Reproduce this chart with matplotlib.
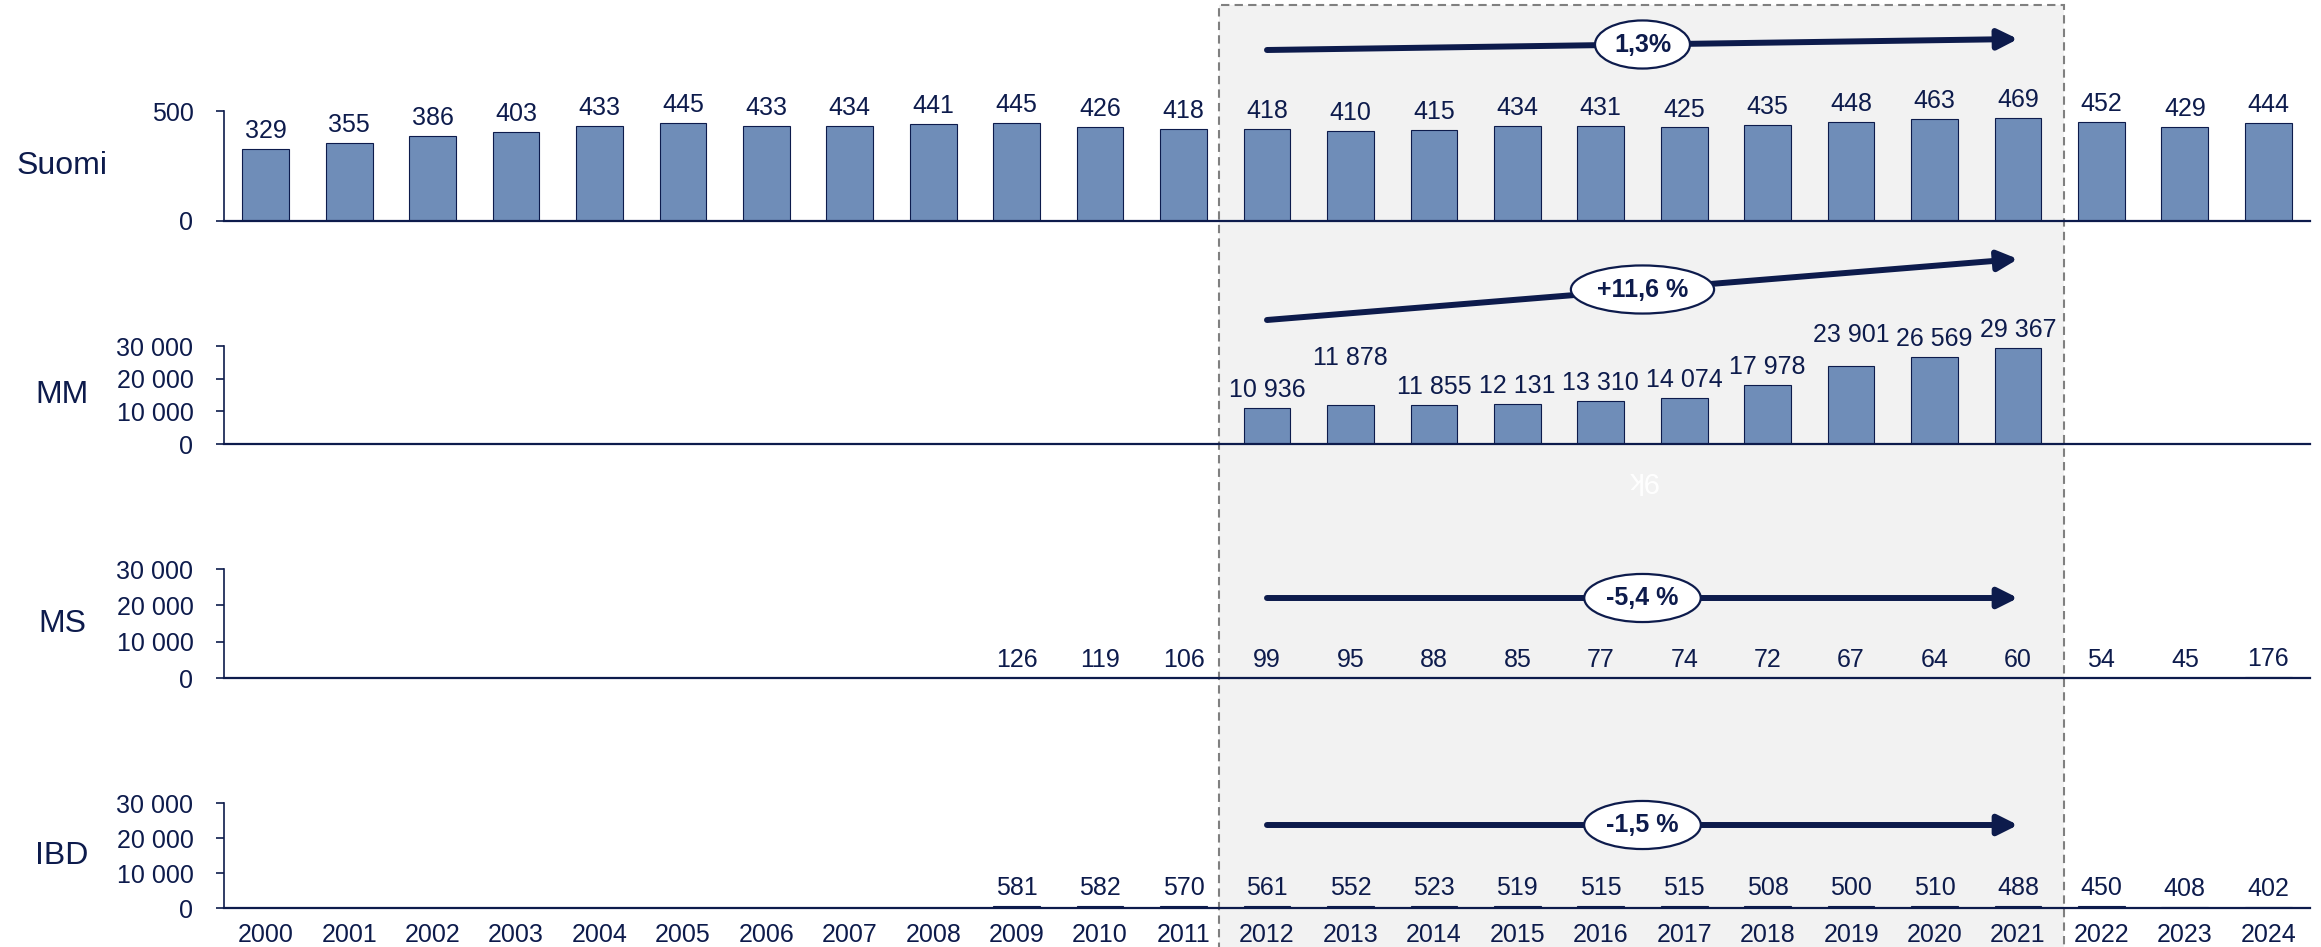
import numpy as np
import matplotlib
matplotlib.use('Agg')
import matplotlib.pyplot as plt
from matplotlib.patches import Rectangle, FancyArrowPatch
from matplotlib.transforms import blended_transform_factory
from matplotlib.ticker import FuncFormatter

plt.rcParams['font.family'] = ['Liberation Sans', 'DejaVu Sans']

years = list(range(2000, 2025))
suomi = [329, 355, 386, 403, 433, 445, 433, 434, 441, 445, 426, 418, 418,
         410, 415, 434, 431, 425, 435, 448, 463, 469, 452, 429, 444]
mm = [None] * 12 + [10936, 11878, 11855, 12131, 13310, 14074, 17978,
                    23901, 26569, 29367] + [None] * 3
ms = [None] * 9 + [126, 119, 106, 99, 95, 88, 85, 77, 74, 72, 67, 64, 60,
                   54, 45, 176]
ibd = [None] * 9 + [581, 582, 570, 561, 552, 523, 519, 515, 515, 508, 500,
                    510, 488, 450, 408, 402]
row_names = ['Suomi', 'MM', 'MS', 'IBD']
trend_labels = ['1,3%', '+11,6 %', '-5,4 %', '-1,5 %']

NAVY = '#0D1B4C'
BAR = '#6F8DB8'
W, H = 2321, 947

fig = plt.figure(figsize=(W / 100, H / 100), dpi=100)

# (zero line px, top px) from top of image
rows = [(221, 111), (444, 346), (678, 569), (908, 803)]
ylims = [500, 30000, 30000, 30000]
yticks = [[0, 500], [0, 10000, 20000, 30000], [0, 10000, 20000, 30000],
          [0, 10000, 20000, 30000]]
# arrow y (start, end) px from top
arrow_y = [(50, 39), (320, 259), (598, 598), (825, 825)]
# extra offsets for a few MM labels
mm_offsets = {13: 40, 19: 24}

fmt = FuncFormatter(lambda v, p: f'{v:,.0f}'.replace(',', ' '))
x = np.arange(len(years))
series = [suomi, mm, ms, ibd]
axes = []
for i, (data, (z, t)) in enumerate(zip(series, rows)):
    ax = fig.add_axes([224 / W, (H - z) / H, 2086 / W, (z - t) / H])
    ax.set_facecolor('none')
    ax.set_xlim(-0.5, 24.5)
    ax.set_ylim(0, ylims[i])
    idx = [k for k, v in enumerate(data) if v is not None]
    vals = [data[k] for k in idx]
    ax.bar(idx, vals, width=0.56, color=BAR, edgecolor=NAVY, linewidth=0.8, zorder=2)
    for k, v in zip(idx, vals):
        off = 11
        if i == 1:
            off = mm_offsets.get(k, 11)
        ax.annotate(fmt(v, None), (k, v), xytext=(0, off), textcoords='offset pixels',
                    ha='center', va='baseline', fontsize=18, color=NAVY,
                    annotation_clip=False, zorder=4)
    for s in ['top', 'right']:
        ax.spines[s].set_visible(False)
    ax.spines['left'].set_color(NAVY)
    ax.spines['left'].set_linewidth(1.2)
    ax.spines['bottom'].set_color(NAVY)
    ax.spines['bottom'].set_linewidth(1.6)
    ax.set_yticks(yticks[i])
    ax.yaxis.set_major_formatter(fmt)
    ax.tick_params(axis='y', direction='out', length=6, width=1.2, color=NAVY,
                   labelsize=18, labelcolor=NAVY, pad=16)
    ax.set_xticks(x)
    if i == 3:
        ax.set_xticklabels([str(y) for y in years])
        ax.tick_params(axis='x', length=0, labelsize=18, labelcolor=NAVY, pad=11)
    else:
        ax.set_xticklabels([])
        ax.tick_params(axis='x', length=0)
    fig.text(62 / W, (H - (z + t) / 2) / H, row_names[i], ha='center', va='center',
             fontsize=23, color=NAVY)
    axes.append(ax)

blend = blended_transform_factory(axes[3].transData, fig.transFigure)

# shaded period 2012-2021
rect = Rectangle((11.42, -0.02), 21.55 - 11.42, 1 - 5 / H + 0.02, transform=blend,
                 facecolor='#F2F2F2', edgecolor='#808080', linewidth=1.5,
                 linestyle=(0, (4, 2.5)), zorder=-1)
fig.add_artist(rect)

for i, (y0, y1) in enumerate(arrow_y):
    f0, f1 = 1 - y0 / H, 1 - y1 / H
    arr = FancyArrowPatch((12.0, f0), (21.0, f1), transform=blend,
                          arrowstyle='-|>,head_length=12,head_width=6',
                          mutation_scale=1, linewidth=4.3, color=NAVY,
                          shrinkA=0, shrinkB=0, zorder=5)
    fig.add_artist(arr)
    fig.text(16.5, (f0 + f1) / 2, trend_labels[i], transform=blend, ha='center',
             va='center', fontsize=18, fontweight='bold', color=NAVY, zorder=6,
             bbox=dict(boxstyle='ellipse,pad=0.2', fc='white', ec=NAVY, lw=1.6))

fig.text(16.5, 1 - 480 / H, '9k', transform=blend, ha='center', va='center',
         fontsize=21, color='white', rotation=180, zorder=2)

fig.savefig('out.png', dpi=100)
